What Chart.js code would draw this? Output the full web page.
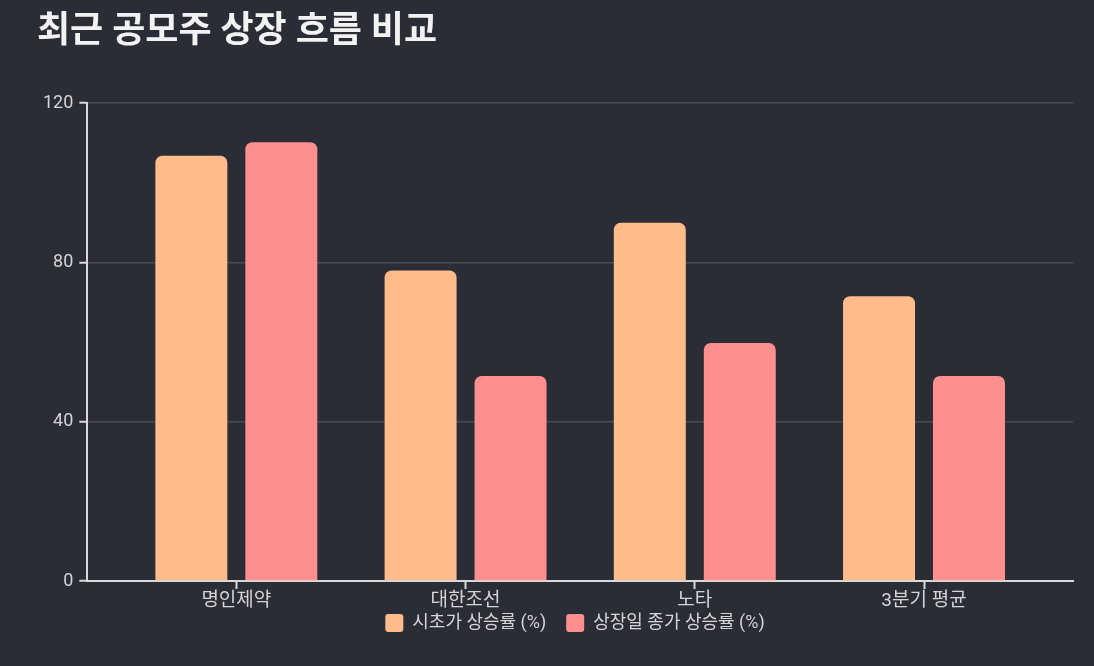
<!DOCTYPE html>
<html>
<head>
<meta charset="utf-8">
<script src="https://cdn.jsdelivr.net/npm/chart.js@4"></script>
<style>
  html, body { margin: 0; padding: 0; background: #2a2d35; }
  #wrap { width: 1094px; height: 666px; }
</style>
</head>
<body>
<div id="wrap"><canvas id="ipoChart"></canvas></div>
<script>
var labels = ['명인제약', '대한조선', '노타', '3분기 평균'];
var openRise = [106.8, 78, 90, 71.5];
var closeRise = [110.2, 51.5, 59.8, 51.5];
var seriesNames = ['시초가 상승률 (%)', '상장일 종가 상승률 (%)'];

var fontFamily = "Roboto, 'Noto Sans CJK KR', sans-serif";
var textColor = '#d4d4d4';
// extra room at both ends of the category axis
var sidePad = 0.65;

// pull the legend up into its own padding and centre it under the plot
var legendShift = {
    id: 'legendShift',
    afterLayout: function(chart){
        var lg = chart.legend;
        lg.top -= 20; lg.bottom -= 20;
        lg.left += 20; lg.right += 20;
    }
};

window.onload = function(){
    var canvas = document.getElementById('ipoChart').getContext('2d');
    new Chart(canvas, {
        type: 'bar',
        data: {
            labels: labels,
            datasets: [{
                label: seriesNames[0],
                data: openRise,
                backgroundColor: '#ffbb8a',
                borderRadius: 7,
                borderSkipped: 'bottom'
            }, {
                label: seriesNames[1],
                data: closeRise,
                backgroundColor: '#ff8e8e',
                borderRadius: 7,
                borderSkipped: 'bottom'
            }]
        },
        plugins: [legendShift],
        options: {
            responsive: true,
            maintainAspectRatio: false,
            animation: false,
            categoryPercentage: 0.785,
            barPercentage: 0.8,
            layout: { padding: { left: 37, right: 21, top: 11, bottom: 4 } },
            plugins: {
                title: {
                    display: true,
                    text: '최근 공모주 상장 흐름 비교',
                    align: 'start',
                    color: '#f2f2f2',
                    font: { family: fontFamily, size: 36, weight: 'bold' },
                    padding: { top: 0, bottom: 49 }
                },
                legend: {
                    position: 'bottom',
                    labels: {
                        color: textColor,
                        font: { family: fontFamily, size: 18 },
                        boxWidth: 18,
                        boxHeight: 18,
                        useBorderRadius: true,
                        borderRadius: 3,
                        padding: 20
                    }
                },
                tooltip: { enabled: false }
            },
            scales: {
                x: {
                    afterBuildTicks: function(scale){
                        scale._startValue = -sidePad;
                        scale._valueRange = labels.length - 1 + 2 * sidePad;
                    },
                    grid: {
                        offset: false,
                        drawOnChartArea: false,
                        drawTicks: true,
                        tickLength: 8,
                        tickColor: '#d8d8d8',
                        tickWidth: 2
                    },
                    border: { color: '#d8d8d8', width: 2 },
                    ticks: { color: textColor, font: { family: fontFamily, size: 19, lineHeight: 1 }, padding: 3 }
                },
                y: {
                    min: 0,
                    max: 120,
                    ticks: { stepSize: 40, color: textColor, font: { family: fontFamily, size: 18 }, padding: 6 },
                    grid: { color: '#4a4c52', lineWidth: 1.5, tickColor: '#d8d8d8', tickLength: 8, tickWidth: 2 },
                    border: { color: '#d8d8d8', width: 2 }
                }
            }
        }
    });
}
</script>
</body>
</html>
